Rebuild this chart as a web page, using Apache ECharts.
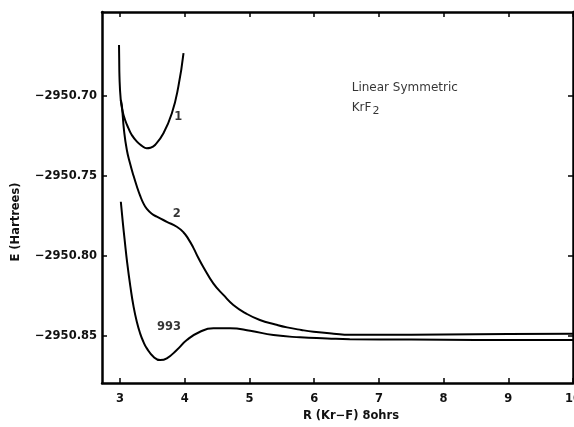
<!DOCTYPE html>
<html>
<head>
<meta charset="utf-8">
<title>KrF2 potential curves</title>
<script src="https://cdn.jsdelivr.net/npm/echarts@6/dist/echarts.min.js"></script>
<style>
  html, body { margin: 0; padding: 0; background: #fff; }
  #chart { width: 574px; height: 427px; }
</style>
</head>
<body>
<div id="chart"></div>
<script>
// data (R in bohr, E in hartree)
var curve1R = [2.983, 2.986, 2.99, 3.01, 3.04, 3.077, 3.13, 3.18, 3.26, 3.34, 3.41, 3.47, 3.54, 3.67, 3.80, 3.90, 3.98];
var curve1E = [-2950.6684, -2950.6777, -2950.688, -2950.7027, -2950.710, -2950.7152, -2950.7204, -2950.7245,
               -2950.7287, -2950.7314, -2950.7328, -2950.7325, -2950.7308, -2950.7235, -2950.711, -2950.6944, -2950.6735];

var curve2R = [3.01, 3.026, 3.06, 3.104, 3.155, 3.206, 3.258, 3.309, 3.36, 3.413, 3.49, 3.567, 3.722, 3.876,
               3.978, 4.056, 4.133, 4.21, 4.29, 4.44, 4.60, 4.75, 4.95, 5.16, 5.40, 5.58, 5.80, 5.99, 6.30, 6.55,
               7.0, 8.0, 9.0, 10.0];
var curve2E = [-2950.7027, -2950.7058, -2950.7215, -2950.7339, -2950.7425, -2950.7498, -2950.7565, -2950.7624,
               -2950.7672, -2950.7707, -2950.7737, -2950.7755, -2950.7787, -2950.7818, -2950.7852, -2950.7895,
               -2950.795, -2950.8013, -2950.8072, -2950.8171, -2950.8245, -2950.8306, -2950.836, -2950.840,
               -2950.8428, -2950.8446, -2950.8462, -2950.8473, -2950.8485, -2950.8492, -2950.8492, -2950.849,
               -2950.8488, -2950.8485];

var curve993R = [3.011, 3.04, 3.07, 3.11, 3.16, 3.206, 3.258, 3.309, 3.36, 3.413, 3.515, 3.618, 3.722, 3.876,
                 4.031, 4.236, 4.442, 4.70, 5.01, 5.37, 5.78, 6.20, 6.55, 7.5, 8.5, 10.0];
var curve993E = [-2950.7662, -2950.7785, -2950.790, -2950.8045, -2950.8195, -2950.8312, -2950.8411, -2950.8483,
                 -2950.8536, -2950.8577, -2950.8629, -2950.865, -2950.8639, -2950.8587, -2950.8525,
                 -2950.8473, -2950.8452, -2950.8452, -2950.8467, -2950.8494, -2950.8508, -2950.8515,
                 -2950.852, -2950.8522, -2950.8524, -2950.8525];

var xTicks = [3, 4, 5, 6, 7, 8, 9, 10];
var yTicks = [-2950.85, -2950.80, -2950.75, -2950.70];

// curve labels, placed in data coordinates
var curveLabels = [
  { name: '1', at: [3.90, -2950.7133] },
  { name: '2', at: [3.876, -2950.774] },
  { name: '993', at: [3.757, -2950.8446] }
];
var noteAt = [6.58, -2950.7014];

function pairs(xs, ys) {
  var out = [];
  for (var i = 0; i < xs.length; i++) out.push([xs[i], ys[i]]);
  return out;
}

var FONT = 'DejaVu Sans';
var lineStyle = { color: '#000', width: 2 };
var frame = { show: true, onZero: false, lineStyle: { color: '#000', width: 2.5 } };
var tickIn = { show: true, inside: true, length: 5, lineStyle: { color: '#000', width: 1.5 } };

var chart = echarts.init(document.getElementById('chart'));

function curve(xs, ys) {
  return {
    type: 'line', data: pairs(xs, ys), showSymbol: false,
    smooth: 0.5, lineStyle: lineStyle, silent: true
  };
}

var option = {
  animation: false,
  backgroundColor: '#fff',
  grid: { left: 102, top: 12, right: 1, bottom: 44, containLabel: false, outerBoundsMode: 'none' },
  xAxis: [
    {
      type: 'value', position: 'bottom', min: 2.72, max: 10,
      axisLine: frame,
      axisTick: Object.assign({ customValues: xTicks }, tickIn),
      axisLabel: {
        customValues: xTicks, margin: 10, color: '#111', hideOverlap: false,
        fontFamily: FONT, fontWeight: 'bold', fontSize: 11.5
      },
      splitLine: { show: false },
      name: 'R (Kr\u2212F) 8ohrs', nameLocation: 'middle', nameGap: 24,
      nameTextStyle: { color: '#111', fontFamily: FONT, fontWeight: 'bold', fontSize: 11.5, padding: [0, 0, 0, 27] }
    },
    {
      type: 'value', position: 'top', min: 2.72, max: 10,
      axisLine: frame,
      axisTick: Object.assign({ customValues: xTicks }, tickIn),
      axisLabel: { show: false },
      splitLine: { show: false }
    }
  ],
  yAxis: [
    {
      type: 'value', position: 'left', min: -2950.8793, max: -2950.6478,
      axisLine: frame,
      axisTick: Object.assign({ customValues: yTicks }, tickIn),
      axisLabel: {
        customValues: yTicks, margin: 5, color: '#111',
        fontFamily: FONT, fontWeight: 'bold', fontSize: 11.5,
        formatter: function (v) { return '\u2212' + Math.abs(v).toFixed(2); }
      },
      splitLine: { show: false },
      name: 'E (Hartrees)', nameLocation: 'middle', nameGap: 80, nameRotate: 90,
      nameTextStyle: { color: '#111', fontFamily: FONT, fontWeight: 'bold', fontSize: 11.5, padding: [0, 49, 0, 0] }
    },
    {
      type: 'value', position: 'right', min: -2950.8793, max: -2950.6478,
      axisLine: frame,
      axisTick: Object.assign({ customValues: yTicks }, tickIn),
      axisLabel: { show: false },
      splitLine: { show: false }
    }
  ],
  series: [
    curve(curve1R, curve1E),
    curve(curve2R, curve2E),
    curve(curve993R, curve993E),
    {
      type: 'scatter', symbolSize: 0, silent: true,
      data: curveLabels.map(function (c) { return { name: c.name, value: c.at }; }),
      label: {
        show: true, position: 'inside', formatter: '{b}', color: '#000',
        fontFamily: FONT, fontWeight: 'bold', fontSize: 11.5
      }
    },
    {
      type: 'scatter', symbolSize: 0, silent: true,
      data: [{ value: noteAt }],
      label: {
        show: true, position: 'right', distance: 0, align: 'left',
        formatter: 'Linear Symmetric\nKrF{sub|2}',
        color: '#000', fontFamily: FONT, fontSize: 12, lineHeight: 20,
        rich: { sub: { fontFamily: FONT, fontSize: 11, color: '#000', padding: [7, 0, 0, 1] } }
      }
    }
  ]
};

chart.setOption(option);
</script>
</body>
</html>
